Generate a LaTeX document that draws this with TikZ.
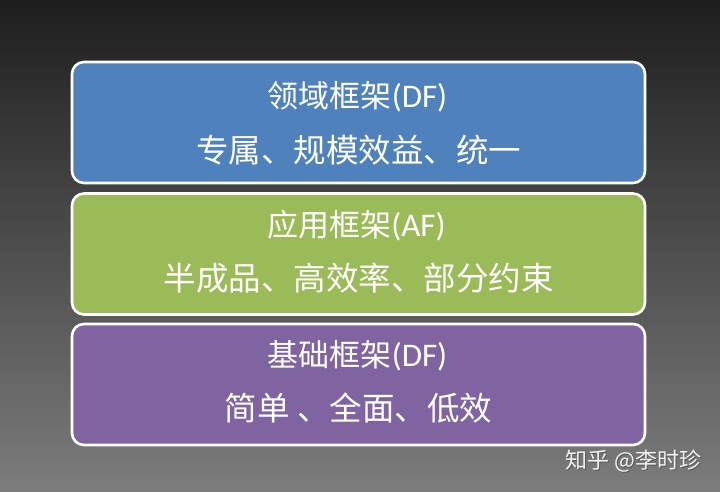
\documentclass[tikz,border=0pt]{standalone}
\usepackage{fontspec}
\newfontfamily\cjk{Noto Sans CJK SC}
\newfontfamily\lat{Carlito}
\definecolor{dfblue}{HTML}{4F81BD}
\definecolor{afgreen}{HTML}{9BBB59}
\definecolor{bfpurple}{HTML}{8064A2}
\definecolor{bgtop}{HTML}{1E1E1E}
\definecolor{bgmid}{HTML}{4A4A4A}
\definecolor{bgbot}{HTML}{7C7C7C}
\definecolor{wmark}{HTML}{F2F2F2}
\begin{document}
\begin{tikzpicture}[x=1pt,y=-1pt,
  layerbox/.style={draw=white, line width=2.6pt, rounded corners=12pt,
    minimum width=573pt, minimum height=121pt, inner sep=0pt},
  titletext/.style={text=white, inner sep=0pt, anchor=center,
    font=\cjk\fontsize{31}{31}\selectfont},
  linetext/.style={text=white, inner sep=0pt, anchor=center,
    font=\cjk\fontsize{32.5}{32.5}\selectfont},
  wmtext/.style={inner sep=0pt, font=\cjk\fontsize{22}{22}\selectfont}]
  \useasboundingbox (0,0) rectangle (720,491);
  \shade[top color=bgtop, middle color=bgmid, bottom color=bgbot]
    (0,0) rectangle (720,491);
  % boxes
  \node[layerbox, fill=dfblue]   (df) at (358.5,122.5) {};
  \node[layerbox, fill=afgreen]  (af) at (358.5,254) {};
  \node[layerbox, fill=bfpurple] (bf) at (358.5,384.5) {};
  % texts
  \node[titletext] (dft) at (357.5,97)  {领域框架{\lat\fontsize{33}{33}\selectfont(DF)}};
  \node[linetext]  (dfs) at (358.5,150) {专属、规模效益、统一};
  \node[titletext] (aft) at (356.5,226) {应用框架{\lat\fontsize{33}{33}\selectfont(AF)}};
  \node[linetext]  (afs) at (358.5,278) {半成品、高效率、部分约束};
  \node[titletext] (bft) at (357.5,356) {基础框架{\lat\fontsize{33}{33}\selectfont(DF)}};
  \node[linetext]  (bfs) at (358.5,408) {简单 、全面、低效};
  % watermark
  \node[wmtext, text=black!65] (wms) at (634.5,462.5) {知乎 @李时珍};
  \node[wmtext, text=wmark]    (wm)  at (633.5,461.5) {知乎 @李时珍};
\end{tikzpicture}
\end{document}
